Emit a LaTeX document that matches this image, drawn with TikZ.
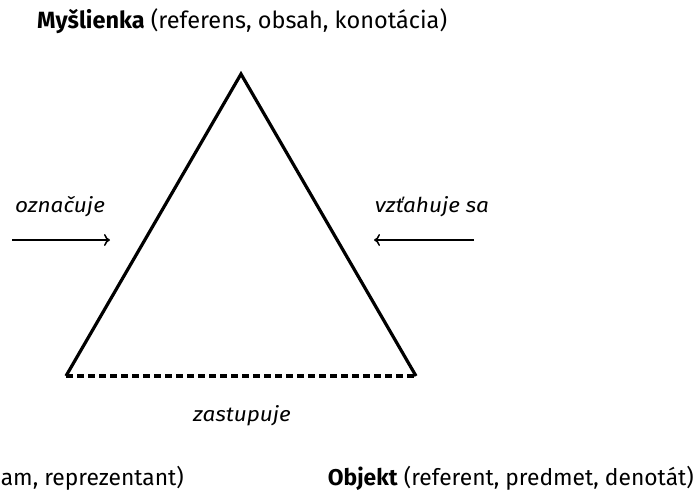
\documentclass[tikz,border=0pt]{standalone}
\usepackage{fontspec}
\usetikzlibrary{arrows.meta}
\setmainfont{Fira Sans}
\newfontfamily\wideital[FakeStretch=1.1]{Fira Sans Italic}
\begin{document}
\begin{tikzpicture}[x=1pt,y=-1pt,
  edge/.style={line width=3.2pt,line join=miter},
  dashedge/.style={line width=3.2pt,dash pattern=on 7pt off 4pt},
  pointer/.style={line width=1.5pt,-{To[length=6pt,width=12pt]}},
  verb/.style={font=\wideital\fontsize{20.5}{24}\selectfont,inner sep=0pt},
  title/.style={font=\fontsize{23.5}{27}\selectfont,inner sep=0pt},
  corner/.style={font=\fontsize{22.8}{26}\selectfont,inner sep=0pt}]
\useasboundingbox (0,0) rectangle (697,491);
% triangle corners
\coordinate (top) at (241,74);
\coordinate (bl) at (66,376);
\coordinate (br) at (416,376);
\draw[edge] (bl) -- (top) -- (br);
\draw[dashedge] (bl) -- (br);
% labels of the three vertices
\node[title,anchor=base west] (thought) at (37,28) {\textbf{Myšlienka} (referens, obsah, konotácia)};
\node[corner,anchor=base east] (symbol) at (184,485) {am, reprezentant)};
\node[corner,anchor=base east] (object) at (694,485) {\textbf{Objekt} (referent, predmet, denotát)};
% relation labels and arrows
\node[verb,anchor=base] (denotes) at (60,212) {označuje};
\node[verb,anchor=base] (refers) at (432,212) {vzťahuje sa};
\node[verb,anchor=base] (stands) at (242,421) {zastupuje};
\coordinate (la) at (12,240);
\coordinate (lb) at (110,240);
\coordinate (ra) at (474,240);
\coordinate (rb) at (374,240);
\draw[pointer] (la) -- (lb);
\draw[pointer] (ra) -- (rb);
\end{tikzpicture}
\end{document}
